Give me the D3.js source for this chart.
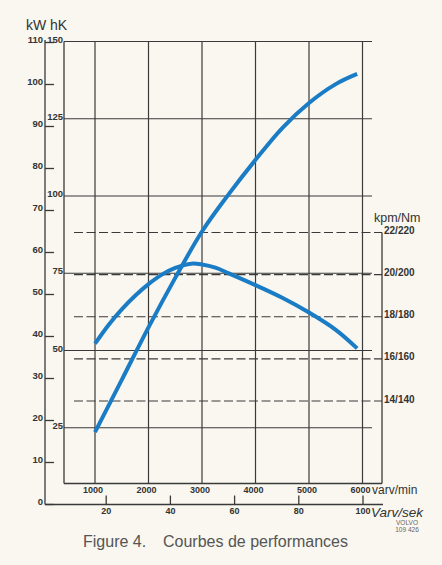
<!DOCTYPE html>
<html>
<head>
<meta charset="utf-8">
<script src="https://cdn.jsdelivr.net/npm/d3@7"></script>
<style>
  html, body { margin: 0; padding: 0; background: #f9f7ef; }
  svg { display: block; }
</style>
</head>
<body>
<script>
// ---------- data ----------
const rpmTicks = [1000, 2000, 3000, 4000, 5000, 6000];
const rpsTicks = [20, 40, 60, 80, 100];
const kwTicks = [0, 10, 20, 30, 40, 50, 60, 70, 80, 90, 100, 110];
const hkTicks = [25, 50, 75, 100, 125, 150];
const hkLabels = ["25", "50", "75", "100", "125", "150"];
const torqueTicks = [14, 16, 18, 20, 22];
const torqueLabels = ["14/140", "16/160", "18/180", "20/200", "22/220"];

// power curve (hK) vs rpm
const powerRpm = [1000, 1500, 2000, 2500, 3000, 3500, 4000, 4500, 5000, 5500, 5900];
const powerHk  = [23.6, 40.5, 57.5, 73.5, 88.5, 100.6, 111.7, 122.0, 130.1, 136.2, 139.5];

// torque curve (kpm) vs rpm
const torqueRpm = [1000, 1250, 1500, 1750, 2000, 2250, 2500, 2800, 3000, 3250, 3500, 4000, 4500, 5000, 5500, 5900];
const torqueKpm = [16.72, 17.6, 18.35, 19.0, 19.55, 20.0, 20.32, 20.52, 20.48, 20.33, 20.06, 19.5, 18.9, 18.2, 17.38, 16.5];

// ---------- layout ----------
const W = 442, H = 565;
const ink = "#3a3a3a";
const blue = "#1b7cc6";
const fontLbl = "'Liberation Sans', Arial, sans-serif";

const svg = d3.select("body").append("svg").attr("width", W).attr("height", H);
svg.append("rect").attr("width", W).attr("height", H).attr("fill", "#f9f7ef");

const x = d3.scaleLinear().domain([0, 6000]).range([41.5, 362.5]);
const xs = d3.scaleLinear().domain([0, 100]).range([41.5, 362.5]);
const ykW = d3.scaleLinear().domain([0, 110]).range([504, 42]);
const yhK = d3.scaleLinear().domain([0, 150]).range([505, 41.5]);
const yT = d3.scaleLinear().domain([14, 22]).range([401, 232.5]);

const boxLeft = 64, boxRight = 382, boxBottom = 483.5, hLineEnd = 372;
const outerAxisX = 45, outerBottom = 504.5, outerRight = 383;

const g = svg.append("g");

// vertical rpm grid lines
g.selectAll("line.vgrid").data(rpmTicks).join("line")
  .attr("class", "vgrid")
  .attr("x1", d => x(d)).attr("x2", d => x(d))
  .attr("y1", yhK(150)).attr("y2", boxBottom)
  .attr("stroke", ink).attr("stroke-width", 1.2);

// inner box left edge and bottom
g.append("line").attr("x1", boxLeft).attr("x2", boxLeft)
  .attr("y1", yhK(150)).attr("y2", boxBottom)
  .attr("stroke", ink).attr("stroke-width", 1.3);
g.append("line").attr("x1", boxLeft).attr("x2", boxRight)
  .attr("y1", boxBottom).attr("y2", boxBottom)
  .attr("stroke", ink).attr("stroke-width", 1.3);

// horizontal hK solid lines
g.selectAll("line.hgrid").data(hkTicks).join("line")
  .attr("class", "hgrid")
  .attr("x1", boxLeft).attr("x2", hLineEnd)
  .attr("y1", d => yhK(d)).attr("y2", d => yhK(d))
  .attr("stroke", ink).attr("stroke-width", 1.2);

// torque dashed lines
g.selectAll("line.tgrid").data(torqueTicks).join("line")
  .attr("class", "tgrid")
  .attr("x1", 74).attr("x2", boxRight)
  .attr("y1", d => yT(d)).attr("y2", d => yT(d))
  .attr("stroke", ink).attr("stroke-width", 1.2)
  .attr("stroke-dasharray", "9,3.5");

// torque axis line
g.append("line").attr("x1", boxRight).attr("x2", boxRight)
  .attr("y1", yT(22)).attr("y2", boxBottom)
  .attr("stroke", ink).attr("stroke-width", 1.3);

// outer kW axis
const kwAxis = d3.axisLeft(ykW).tickValues(kwTicks).tickSizeInner(-9).tickSizeOuter(0).tickPadding(2);
const kwG = svg.append("g").attr("transform", `translate(${outerAxisX},0)`).call(kwAxis);
kwG.select(".domain").remove();
kwG.selectAll(".tick line").attr("stroke", ink).attr("stroke-width", 1.3);
kwG.selectAll(".tick text").attr("dy", "0.05em").attr("fill", "#333")
  .style("font", `bold 9.5px ${fontLbl}`);
svg.append("line").attr("x1", outerAxisX).attr("x2", outerAxisX)
  .attr("y1", ykW(110) - 2).attr("y2", outerBottom)
  .attr("stroke", ink).attr("stroke-width", 1.3);

// outer bottom rps axis
const rpsAxis = d3.axisBottom(xs).tickValues(rpsTicks).tickSizeInner(-9).tickSizeOuter(0).tickPadding(3);
const rpsG = svg.append("g").attr("transform", `translate(0,${outerBottom})`).call(rpsAxis);
rpsG.select(".domain").remove();
rpsG.selectAll(".tick line").attr("stroke", ink).attr("stroke-width", 1.3);
rpsG.selectAll(".tick text").attr("fill", "#333").style("font", `bold 9px ${fontLbl}`);
svg.append("line").attr("x1", outerAxisX).attr("x2", outerRight)
  .attr("y1", outerBottom).attr("y2", outerBottom)
  .attr("stroke", ink).attr("stroke-width", 1.3);

// rpm labels
svg.selectAll("text.rpm").data(rpmTicks).join("text")
  .attr("class", "rpm")
  .attr("x", d => x(d) - 2).attr("y", 493)
  .attr("text-anchor", "middle").attr("fill", "#333")
  .style("font", `bold 9px ${fontLbl}`)
  .text(d => d);

// hK labels
svg.selectAll("text.hk").data(hkTicks).join("text")
  .attr("class", "hk")
  .attr("x", boxLeft - 1).attr("y", d => yhK(d) + 1)
  .attr("text-anchor", "end").attr("fill", "#333")
  .style("font", `bold 9.5px ${fontLbl}`)
  .text((d, i) => hkLabels[i]);

// torque labels
svg.selectAll("text.tq").data(torqueTicks).join("text")
  .attr("class", "tq")
  .attr("x", boxRight + 2).attr("y", d => yT(d) + 1.5)
  .attr("fill", "#333")
  .style("font", `bold 10px ${fontLbl}`)
  .text((d, i) => torqueLabels[i]);

// unit labels
svg.append("text").attr("x", 26).attr("y", 30).attr("fill", "#333")
  .style("font", `14px ${fontLbl}`).text("kW");
svg.append("text").attr("x", 50).attr("y", 30).attr("fill", "#333")
  .style("font", `14px ${fontLbl}`).text("hK");
svg.append("text").attr("x", 374).attr("y", 222).attr("fill", "#333")
  .style("font", `12.5px ${fontLbl}`).text("kpm/Nm");
svg.append("text").attr("x", 372).attr("y", 494).attr("fill", "#333")
  .style("font", `12px ${fontLbl}`).text("varv/min");
svg.append("text").attr("x", 371).attr("y", 517).attr("fill", "#333")
  .style("font", `italic 13.5px ${fontLbl}`).text("Varv/sek");
svg.append("text").attr("x", 407).attr("y", 525).attr("text-anchor", "middle").attr("fill", "#666")
  .style("font", `6.5px ${fontLbl}`).text("VOLVO");
svg.append("text").attr("x", 407).attr("y", 532).attr("text-anchor", "middle").attr("fill", "#666")
  .style("font", `6.5px ${fontLbl}`).text("109 426");

// curves
const line = d3.line().curve(d3.curveCatmullRom.alpha(0.5));
svg.append("path")
  .attr("d", line(powerRpm.map((r, i) => [x(r), yhK(powerHk[i])])))
  .attr("fill", "none").attr("stroke", blue).attr("stroke-width", 4);
svg.append("path")
  .attr("d", line(torqueRpm.map((r, i) => [x(r), yT(torqueKpm[i])])))
  .attr("fill", "none").attr("stroke", blue).attr("stroke-width", 4);

// caption
svg.append("text").attr("x", 83).attr("y", 547).attr("fill", "#555")
  .style("font", `16px ${fontLbl}`).text("Figure 4.");
svg.append("text").attr("x", 163).attr("y", 547).attr("fill", "#555")
  .style("font", `16px ${fontLbl}`).text("Courbes de performances");
</script>
</body>
</html>
